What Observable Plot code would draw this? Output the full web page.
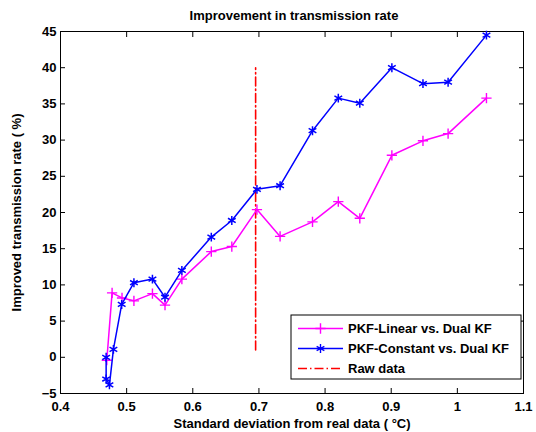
<!DOCTYPE html>
<html>
<head>
<meta charset="utf-8">
<script src="https://cdn.jsdelivr.net/npm/d3@7"></script>
<script src="https://cdn.jsdelivr.net/npm/@observablehq/plot@0.6"></script>
<style>
  html, body { margin: 0; padding: 0; background: #fff; }
  #chart svg { font-family: "Liberation Sans", Arial, sans-serif; font-weight: bold; }
</style>
</head>
<body>
<div id="chart"></div>
<script>
const titleText = "Improvement in transmission rate";
const xLabel = "Standard deviation from real data ( \u00B0C)";
const yLabel = "Improved transmission rate ( %)";

const xTicks = [0.4, 0.5, 0.6, 0.7, 0.8, 0.9, 1, 1.1];
const yTicks = [-5, 0, 5, 10, 15, 20, 25, 30, 35, 40, 45];

const linearName = "PKF-Linear vs. Dual KF";
const linearX = [0.470, 0.478, 0.493, 0.511, 0.539, 0.558, 0.5835, 0.628, 0.659, 0.697, 0.732, 0.781, 0.820, 0.8525, 0.901, 0.948, 0.986, 1.044];
const linearY = [-0.4, 8.9, 8.2, 7.8, 8.8, 7.2, 10.8, 14.6, 15.3, 20.4, 16.7, 18.7, 21.5, 19.2, 27.9, 29.9, 30.9, 35.8];

const constName = "PKF-Constant vs. Dual KF";
const constX = [0.469, 0.469, 0.474, 0.480, 0.4925, 0.511, 0.539, 0.558, 0.5835, 0.628, 0.659, 0.697, 0.732, 0.781, 0.820, 0.8525, 0.901, 0.948, 0.986, 1.044];
const constY = [0.0, -3.0, -3.8, 1.1, 7.3, 10.3, 10.8, 8.3, 12.0, 16.6, 18.9, 23.2, 23.7, 31.3, 35.8, 35.1, 40.0, 37.8, 38.0, 44.5];

const rawName = "Raw data";
const rawX = [0.695, 0.695];
const rawY = [1, 40];

const linear = linearX.map((x, i) => ({x, y: linearY[i]}));
const constant = constX.map((x, i) => ({x, y: constY[i]}));
const raw = rawX.map((x, i) => ({x, y: rawY[i]}));

const MAGENTA = "#ff00ff", BLUE = "#0000ff", RED = "#ff0000";
const DASHDOT = "9,3,1.5,3";

const chart = Plot.plot({
  width: 536,
  height: 432,
  marginLeft: 60,
  marginRight: 13,
  marginTop: 31,
  marginBottom: 39,
  style: {fontSize: "13px", fontWeight: "bold", background: "#fff", color: "#000"},
  x: {domain: [0.4, 1.1]},
  y: {domain: [-5, 45]},
  marks: [
    Plot.axisX({anchor: "bottom", ticks: xTicks, tickSize: 0, tickPadding: 8, label: null, tickFormat: d => String(+d.toFixed(1))}),
    Plot.axisX({anchor: "bottom", ticks: xTicks, tickSize: -5, tickFormat: () => "", label: null}),
    Plot.axisX({anchor: "top", ticks: xTicks, tickSize: -5, tickFormat: () => "", label: null}),
    Plot.axisY({anchor: "left", ticks: yTicks, tickSize: 0, tickPadding: 4, label: null}),
    Plot.axisY({anchor: "left", ticks: yTicks, tickSize: -5, tickFormat: () => "", label: null}),
    Plot.axisY({anchor: "right", ticks: yTicks, tickSize: -5, tickFormat: () => "", label: null}),
    Plot.frame({stroke: "#000"}),
    Plot.line(raw, {x: "x", y: "y", stroke: RED, strokeWidth: 1.6, strokeDasharray: DASHDOT}),
    Plot.line(linear, {x: "x", y: "y", stroke: MAGENTA, strokeWidth: 1.5}),
    Plot.dot(linear, {x: "x", y: "y", symbol: "plus", r: 3.4, stroke: MAGENTA, strokeWidth: 1.4, fill: "none"}),
    Plot.line(constant, {x: "x", y: "y", stroke: BLUE, strokeWidth: 1.5}),
    Plot.dot(constant, {x: "x", y: "y", symbol: "asterisk", r: 4.2, stroke: BLUE, strokeWidth: 1.5, fill: "none"}),
    Plot.text([titleText], {frameAnchor: "top", lineAnchor: "middle", textAnchor: "middle", dy: -16, dx: 2, fontSize: 13, fontWeight: "bold", fill: "#000"}),
    Plot.text([xLabel], {frameAnchor: "bottom", lineAnchor: "middle", textAnchor: "middle", dy: 30, fontSize: 13, fontWeight: "bold", fill: "#000"}),
    Plot.text([yLabel], {frameAnchor: "left", lineAnchor: "middle", textAnchor: "middle", rotate: -90, dx: -44, fontSize: 13, fontWeight: "bold", fill: "#000"})
  ]
});

document.getElementById("chart").appendChild(chart);

// Legend inside the plot area (lower right)
const svg = d3.select(chart);
const lg = svg.append("g").attr("class", "legend").attr("text-anchor", "start");
const bx = 291, by = 315, bw = 230, bh = 64;
lg.append("rect").attr("x", bx).attr("y", by).attr("width", bw).attr("height", bh)
  .attr("fill", "#fff").attr("stroke", "#000").attr("stroke-width", 1);
const entries = [
  {name: linearName, color: MAGENTA, symbol: d3.symbolPlus, size: 3.4 * 3.4 * Math.PI, dash: null},
  {name: constName, color: BLUE, symbol: d3.symbolAsterisk, size: 4.2 * 4.2 * Math.PI, dash: null},
  {name: rawName, color: RED, symbol: null, dash: DASHDOT}
];
entries.forEach((e, i) => {
  const cy = by + 13.5 + i * 20;
  const g = lg.append("g");
  g.append("line").attr("x1", bx + 7).attr("x2", bx + 52).attr("y1", cy).attr("y2", cy)
    .attr("stroke", e.color).attr("stroke-width", 1.5).attr("stroke-dasharray", e.dash);
  if (e.symbol) {
    g.append("path").attr("d", d3.symbol(e.symbol, e.size)())
      .attr("transform", `translate(${bx + 29.5},${cy})`)
      .attr("stroke", e.color).attr("stroke-width", 1.4).attr("fill", "none");
  }
  g.append("text").attr("x", bx + 57).attr("y", cy).attr("dy", "0.35em")
    .attr("text-anchor", "start")
    .attr("font-size", 13).attr("font-weight", "bold").attr("fill", "#000").text(e.name);
});
</script>
</body>
</html>
